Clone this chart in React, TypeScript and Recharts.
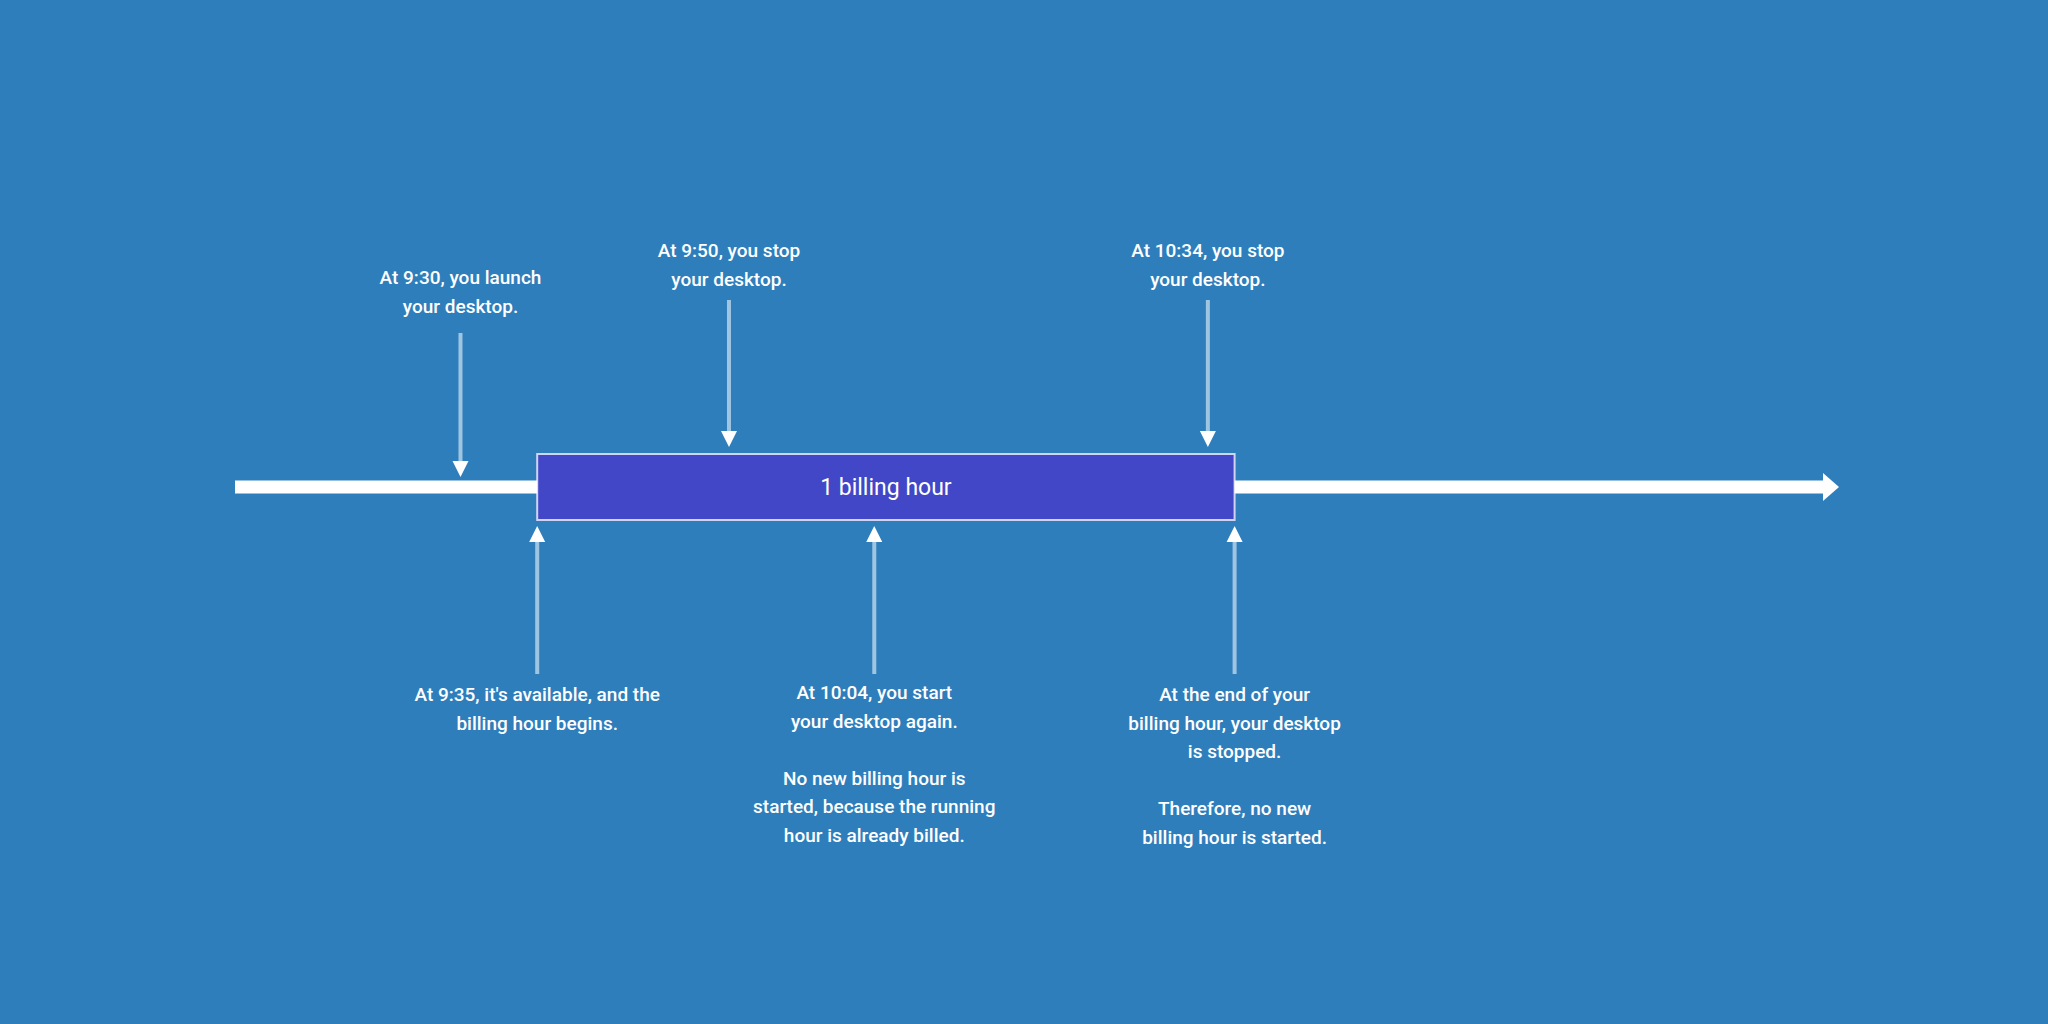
import React from "react";
import { ComposedChart, XAxis, YAxis, Scatter, ReferenceLine, ReferenceArea } from "recharts";

// minutes after 9:00 (positions as drawn in the diagram)
const billingStart = 35;
const billingEnd = 95;
const timelineStart = 9;
const timelineEnd = 147;
const timelineY = 487;

const downEvents = [
  { t: 28.4, y: 477, tail: 333, textY: 284, lines: ["At 9:30, you launch", "your desktop."] },
  { t: 51.5, y: 447, tail: 300, textY: 257, lines: ["At 9:50, you stop", "your desktop."] },
  { t: 92.7, y: 447, tail: 300, textY: 257, lines: ["At 10:34, you stop", "your desktop."] },
];
const upEvents = [
  { t: 35, y: 526, tail: 674, textY: 701, lines: ["At 9:35, it's available, and the", "billing hour begins."] },
  { t: 64, y: 526, tail: 674, textY: 699, lines: ["At 10:04, you start", "your desktop again.", "", "No new billing hour is", "started, because the running", "hour is already billed."] },
  { t: 95, y: 526, tail: 674, textY: 701, lines: ["At the end of your", "billing hour, your desktop", "is stopped.", "", "Therefore, no new", "billing hour is started."] },
];
const arrowHead = [{ t: timelineEnd, y: timelineY }];

const FONT = "Roboto, 'Open Sans', sans-serif";
const LH = 28.5;

const Txt = ({ x, y, lines }: any) => (
  <text x={x} textAnchor="middle" fill="#fff" fontFamily={FONT} fontSize={19} fontWeight={500}>
    {lines.map((l: string, i: number) => (
      <tspan key={i} x={x} y={y + i * LH}>{l || " "}</tspan>
    ))}
  </text>
);

const DownShape = (p: any) => {
  const { cx, cy, payload } = p;
  const k = cy / payload.y;
  const tail = payload.tail * k;
  return (
    <g>
      <line x1={cx} y1={tail} x2={cx} y2={cy - 14} stroke="rgba(255,255,255,0.55)" strokeWidth={4} />
      <polygon points={`${cx - 8},${cy - 16} ${cx + 8},${cy - 16} ${cx},${cy}`} fill="#fff" />
      <Txt x={cx} y={payload.textY * k} lines={payload.lines} />
    </g>
  );
};
const UpShape = (p: any) => {
  const { cx, cy, payload } = p;
  const k = cy / payload.y;
  const tail = payload.tail * k;
  return (
    <g>
      <line x1={cx} y1={tail} x2={cx} y2={cy + 14} stroke="rgba(255,255,255,0.55)" strokeWidth={4} />
      <polygon points={`${cx - 8},${cy + 16} ${cx + 8},${cy + 16} ${cx},${cy}`} fill="#fff" />
      <Txt x={cx} y={payload.textY * k} lines={payload.lines} />
    </g>
  );
};
const HeadShape = (p: any) => {
  const { cx, cy } = p;
  return <polygon points={`${cx - 16},${cy - 14} ${cx - 16},${cy + 14} ${cx},${cy}`} fill="#fff" />;
};

export default function App() {
  return (
    <div style={{ position: "absolute", left: 0, top: 0, width: 2048, height: 1024, background: "#2e7ebc" }}>
      <ComposedChart width={2048} height={1024} margin={{ top: 0, right: 209, bottom: 0, left: 235 }}>
        <XAxis type="number" dataKey="t" domain={[timelineStart, timelineEnd]} hide />
        <YAxis type="number" dataKey="y" domain={[0, 1024]} reversed hide />
        <ReferenceLine
          segment={[{ x: timelineStart, y: timelineY }, { x: billingStart, y: timelineY }]}
          stroke="#fff"
          strokeWidth={13}
        />
        <ReferenceLine
          segment={[{ x: billingEnd, y: timelineY }, { x: timelineEnd - 1.2, y: timelineY }]}
          stroke="#fff"
          strokeWidth={13}
        />
        <ReferenceArea
          x1={billingStart}
          x2={billingEnd}
          y1={454}
          y2={520}
          fill="#4247c7"
          fillOpacity={1}
          stroke="#d0d4f4"
          strokeWidth={2}
          label={{ value: "1 billing hour", fill: "#fff", fontSize: 23, fontFamily: FONT }}
        />
        <Scatter data={arrowHead} shape={HeadShape} isAnimationActive={false} />
        <Scatter data={downEvents} shape={DownShape} isAnimationActive={false} />
        <Scatter data={upEvents} shape={UpShape} isAnimationActive={false} />
      </ComposedChart>
    </div>
  );
}
